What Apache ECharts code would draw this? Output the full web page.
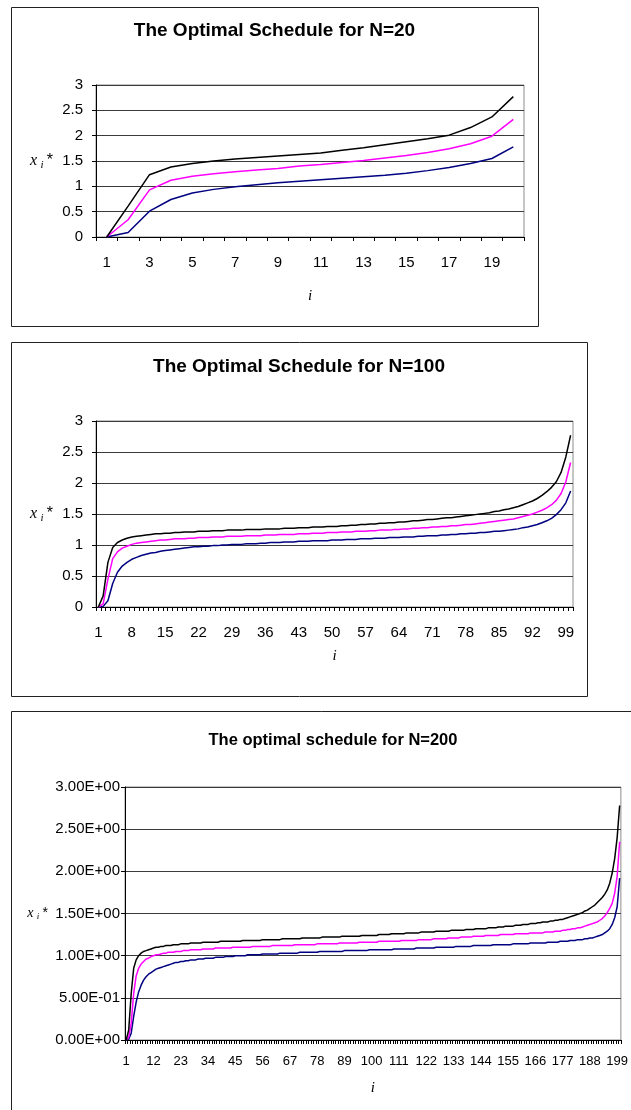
<!DOCTYPE html>
<html>
<head>
<meta charset="utf-8">
<title>The Optimal Schedule</title>
<script src="https://cdn.jsdelivr.net/npm/echarts@6/dist/echarts.min.js"></script>
<style>
html, body { margin: 0; padding: 0; background: #fff; overflow: hidden; }
#main { width: 631px; height: 1110px; }
</style>
</head>
<body>
<div id="main"></div>
<script>
// ---- data ----
var titles = ['The Optimal Schedule for N=20', 'The Optimal Schedule for N=100', 'The optimal schedule for N=200'];
var yTicks = [0, 0.5, 1, 1.5, 2, 2.5, 3];

// N = 20
var black20 = [0, 0.61, 1.23, 1.38, 1.45, 1.50, 1.54, 1.57, 1.60, 1.63, 1.66, 1.71, 1.76, 1.82, 1.88, 1.94, 2.01, 2.16, 2.37, 2.77];
var magenta20 = [0, 0.34, 0.93, 1.12, 1.20, 1.25, 1.29, 1.32, 1.35, 1.40, 1.43, 1.47, 1.51, 1.56, 1.61, 1.67, 1.74, 1.84, 1.99, 2.32];
var navy20 = [0, 0.09, 0.51, 0.74, 0.87, 0.94, 0.99, 1.03, 1.07, 1.10, 1.13, 1.16, 1.19, 1.22, 1.26, 1.31, 1.37, 1.45, 1.55, 1.78];

// N = 100
var black100 = [
  0, 0.18, 0.72, 0.96, 1.04, 1.08, 1.11, 1.13, 1.14, 1.15,
  1.16, 1.17, 1.18, 1.18, 1.19, 1.19, 1.20, 1.20, 1.21, 1.21,
  1.21, 1.22, 1.22, 1.22, 1.23, 1.23, 1.23, 1.24, 1.24, 1.24,
  1.24, 1.25, 1.25, 1.25, 1.25, 1.26, 1.26, 1.26, 1.26, 1.27,
  1.27, 1.27, 1.28, 1.28, 1.28, 1.29, 1.29, 1.29, 1.30, 1.30,
  1.30, 1.31, 1.31, 1.32, 1.32, 1.33, 1.33, 1.34, 1.34, 1.35,
  1.35, 1.36, 1.36, 1.37, 1.37, 1.38, 1.39, 1.39, 1.40, 1.41,
  1.41, 1.42, 1.43, 1.44, 1.44, 1.45, 1.46, 1.47, 1.48, 1.49,
  1.50, 1.51, 1.52, 1.54, 1.55, 1.57, 1.58, 1.60, 1.62, 1.65,
  1.68, 1.71, 1.75, 1.80, 1.86, 1.93, 2.02, 2.17, 2.42, 2.77
];
var magenta100 = [
  0, 0.05, 0.45, 0.78, 0.89, 0.95, 0.98, 1.01, 1.03, 1.04,
  1.05, 1.06, 1.07, 1.08, 1.08, 1.09, 1.10, 1.10, 1.10, 1.11,
  1.11, 1.12, 1.12, 1.12, 1.13, 1.13, 1.13, 1.14, 1.14, 1.14,
  1.14, 1.15, 1.15, 1.15, 1.15, 1.16, 1.16, 1.16, 1.17, 1.17,
  1.17, 1.17, 1.18, 1.18, 1.18, 1.19, 1.19, 1.19, 1.20, 1.20,
  1.20, 1.21, 1.21, 1.21, 1.22, 1.22, 1.22, 1.23, 1.23, 1.24,
  1.24, 1.24, 1.25, 1.25, 1.26, 1.26, 1.27, 1.27, 1.28, 1.28,
  1.29, 1.29, 1.30, 1.30, 1.31, 1.31, 1.32, 1.33, 1.33, 1.34,
  1.35, 1.36, 1.37, 1.38, 1.39, 1.40, 1.41, 1.42, 1.44, 1.46,
  1.48, 1.50, 1.53, 1.56, 1.60, 1.65, 1.72, 1.83, 2.02, 2.33
];
var navy100 = [
  0, 0.01, 0.10, 0.38, 0.56, 0.66, 0.72, 0.77, 0.80, 0.83,
  0.85, 0.87, 0.88, 0.90, 0.91, 0.92, 0.93, 0.94, 0.95, 0.96,
  0.97, 0.97, 0.98, 0.98, 0.99, 0.99, 1.00, 1.00, 1.01, 1.01,
  1.01, 1.02, 1.02, 1.02, 1.03, 1.03, 1.04, 1.04, 1.04, 1.05,
  1.05, 1.05, 1.06, 1.06, 1.06, 1.07, 1.07, 1.07, 1.07, 1.08,
  1.08, 1.08, 1.09, 1.09, 1.09, 1.10, 1.10, 1.10, 1.11, 1.11,
  1.11, 1.12, 1.12, 1.12, 1.13, 1.13, 1.13, 1.14, 1.14, 1.15,
  1.15, 1.15, 1.16, 1.16, 1.17, 1.17, 1.18, 1.18, 1.19, 1.19,
  1.20, 1.20, 1.21, 1.22, 1.22, 1.23, 1.24, 1.25, 1.26, 1.28,
  1.29, 1.31, 1.33, 1.36, 1.39, 1.43, 1.49, 1.57, 1.68, 1.87
];

// N = 200
var black200 = [
  0, 0.12, 0.55, 0.85, 0.95, 1.00, 1.03, 1.05, 1.06, 1.07,
  1.08, 1.09, 1.10, 1.10, 1.11, 1.11, 1.12, 1.12, 1.12, 1.13,
  1.13, 1.13, 1.14, 1.14, 1.14, 1.14, 1.15, 1.15, 1.15, 1.15,
  1.15, 1.16, 1.16, 1.16, 1.16, 1.16, 1.16, 1.16, 1.17, 1.17,
  1.17, 1.17, 1.17, 1.17, 1.17, 1.17, 1.17, 1.18, 1.18, 1.18,
  1.18, 1.18, 1.18, 1.18, 1.18, 1.19, 1.19, 1.19, 1.19, 1.19,
  1.19, 1.19, 1.19, 1.20, 1.20, 1.20, 1.20, 1.20, 1.20, 1.20,
  1.20, 1.21, 1.21, 1.21, 1.21, 1.21, 1.21, 1.21, 1.21, 1.22,
  1.22, 1.22, 1.22, 1.22, 1.22, 1.22, 1.22, 1.23, 1.23, 1.23,
  1.23, 1.23, 1.23, 1.23, 1.23, 1.24, 1.24, 1.24, 1.24, 1.24,
  1.24, 1.24, 1.25, 1.25, 1.25, 1.25, 1.25, 1.26, 1.26, 1.26,
  1.26, 1.26, 1.26, 1.27, 1.27, 1.27, 1.27, 1.27, 1.27, 1.28,
  1.28, 1.28, 1.28, 1.28, 1.28, 1.29, 1.29, 1.29, 1.29, 1.29,
  1.29, 1.30, 1.30, 1.30, 1.30, 1.30, 1.30, 1.31, 1.31, 1.31,
  1.31, 1.32, 1.32, 1.32, 1.32, 1.32, 1.33, 1.33, 1.33, 1.33,
  1.34, 1.34, 1.34, 1.35, 1.35, 1.35, 1.35, 1.36, 1.36, 1.36,
  1.37, 1.37, 1.37, 1.38, 1.38, 1.38, 1.39, 1.39, 1.40, 1.40,
  1.40, 1.41, 1.41, 1.42, 1.42, 1.43, 1.43, 1.44, 1.45, 1.46,
  1.47, 1.48, 1.49, 1.50, 1.51, 1.53, 1.54, 1.56, 1.58, 1.60,
  1.63, 1.66, 1.69, 1.73, 1.78, 1.86, 1.98, 2.15, 2.40, 2.78
];
var magenta200 = [
  0, 0.03, 0.20, 0.55, 0.76, 0.85, 0.90, 0.93, 0.96, 0.97,
  0.99, 1.00, 1.01, 1.01, 1.02, 1.03, 1.03, 1.04, 1.04, 1.04,
  1.05, 1.05, 1.05, 1.06, 1.06, 1.06, 1.07, 1.07, 1.07, 1.07,
  1.07, 1.08, 1.08, 1.08, 1.08, 1.08, 1.09, 1.09, 1.09, 1.09,
  1.09, 1.09, 1.09, 1.10, 1.10, 1.10, 1.10, 1.10, 1.10, 1.10,
  1.10, 1.11, 1.11, 1.11, 1.11, 1.11, 1.11, 1.11, 1.11, 1.12,
  1.12, 1.12, 1.12, 1.12, 1.12, 1.12, 1.12, 1.12, 1.13, 1.13,
  1.13, 1.13, 1.13, 1.13, 1.13, 1.13, 1.13, 1.14, 1.14, 1.14,
  1.14, 1.14, 1.14, 1.14, 1.14, 1.14, 1.15, 1.15, 1.15, 1.15,
  1.15, 1.15, 1.15, 1.15, 1.16, 1.16, 1.16, 1.16, 1.16, 1.16,
  1.16, 1.16, 1.17, 1.17, 1.17, 1.17, 1.17, 1.17, 1.17, 1.17,
  1.17, 1.18, 1.18, 1.18, 1.18, 1.18, 1.18, 1.18, 1.19, 1.19,
  1.19, 1.19, 1.19, 1.19, 1.20, 1.20, 1.20, 1.20, 1.20, 1.20,
  1.21, 1.21, 1.21, 1.21, 1.21, 1.22, 1.22, 1.22, 1.22, 1.22,
  1.23, 1.23, 1.23, 1.23, 1.23, 1.24, 1.24, 1.24, 1.24, 1.24,
  1.24, 1.25, 1.25, 1.25, 1.25, 1.25, 1.25, 1.26, 1.26, 1.26,
  1.26, 1.26, 1.26, 1.27, 1.27, 1.27, 1.27, 1.27, 1.27, 1.28,
  1.28, 1.28, 1.28, 1.29, 1.29, 1.29, 1.30, 1.30, 1.31, 1.31,
  1.32, 1.32, 1.33, 1.33, 1.34, 1.35, 1.36, 1.37, 1.38, 1.39,
  1.40, 1.42, 1.44, 1.47, 1.51, 1.56, 1.62, 1.74, 1.94, 2.35
];
var navy200 = [
  0, 0.01, 0.08, 0.28, 0.45, 0.57, 0.65, 0.71, 0.75, 0.78,
  0.80, 0.82, 0.84, 0.85, 0.86, 0.87, 0.88, 0.89, 0.90, 0.91,
  0.92, 0.92, 0.93, 0.93, 0.94, 0.94, 0.95, 0.95, 0.95, 0.96,
  0.96, 0.96, 0.97, 0.97, 0.97, 0.97, 0.98, 0.98, 0.98, 0.98,
  0.99, 0.99, 0.99, 0.99, 1.00, 1.00, 1.00, 1.00, 1.00, 1.01,
  1.01, 1.01, 1.01, 1.01, 1.01, 1.02, 1.02, 1.02, 1.02, 1.02,
  1.02, 1.02, 1.03, 1.03, 1.03, 1.03, 1.03, 1.03, 1.03, 1.03,
  1.04, 1.04, 1.04, 1.04, 1.04, 1.04, 1.04, 1.04, 1.05, 1.05,
  1.05, 1.05, 1.05, 1.05, 1.05, 1.05, 1.05, 1.05, 1.06, 1.06,
  1.06, 1.06, 1.06, 1.06, 1.06, 1.06, 1.06, 1.06, 1.07, 1.07,
  1.07, 1.07, 1.07, 1.07, 1.07, 1.07, 1.07, 1.07, 1.08, 1.08,
  1.08, 1.08, 1.08, 1.08, 1.08, 1.08, 1.08, 1.09, 1.09, 1.09,
  1.09, 1.09, 1.09, 1.09, 1.09, 1.10, 1.10, 1.10, 1.10, 1.10,
  1.10, 1.10, 1.10, 1.11, 1.11, 1.11, 1.11, 1.11, 1.11, 1.11,
  1.12, 1.12, 1.12, 1.12, 1.12, 1.12, 1.12, 1.12, 1.13, 1.13,
  1.13, 1.13, 1.13, 1.13, 1.13, 1.13, 1.14, 1.14, 1.14, 1.14,
  1.14, 1.14, 1.14, 1.15, 1.15, 1.15, 1.15, 1.15, 1.15, 1.15,
  1.16, 1.16, 1.16, 1.16, 1.16, 1.17, 1.17, 1.17, 1.17, 1.18,
  1.18, 1.18, 1.19, 1.19, 1.19, 1.20, 1.20, 1.21, 1.21, 1.22,
  1.23, 1.24, 1.25, 1.27, 1.29, 1.32, 1.37, 1.45, 1.58, 1.92
];

// ---- layout ----
var boxes = [
  { x: 11, y: 7, w: 527, h: 319 },
  { x: 11, y: 342, w: 576, h: 354 },
  { x: 11, y: 711, w: 640, h: 420 }
];
var grids = [
  { left: 96, top: 85, width: 428, height: 152 },
  { left: 96, top: 421, width: 477, height: 186 },
  { left: 125, top: 787, width: 497, height: 253 }
];

function cats(n) {
  var a = [];
  for (var i = 1; i <= n; i++) a.push(String(i));
  return a;
}

// 0.5 -> 5.00E-01
function sci(v) {
  if (v === 0) return '0.00E+00';
  var e = Math.floor(Math.log10(Math.abs(v)) + 1e-9);
  var m = v / Math.pow(10, e);
  var a = Math.abs(e);
  return m.toFixed(2) + 'E' + (e < 0 ? '-' : '+') + (a < 10 ? '0' : '') + a;
}

var SANS = '"Liberation Sans", Arial, sans-serif';
var SERIF = '"Liberation Serif", "Times New Roman", serif';

function yName(size) {
  return {
    name: '{x|x} {s|i} {t|*}',
    nameLocation: 'middle',
    nameRotate: 0,
    nameTextStyle: {
      rich: {
        x: { fontFamily: SERIF, fontStyle: 'italic', fontSize: size, color: '#000' },
        s: { fontFamily: SERIF, fontStyle: 'italic', fontSize: size - 5, color: '#000', padding: [size * 0.5, 0, 0, 0] },
        t: { fontFamily: SANS, fontSize: size, color: '#000' }
      }
    }
  };
}

var xCats = [cats(20), cats(100), cats(200)];
var labelStep = [1, 6, 10];
var xFont = [15, 15, 13];
var yFont = [15, 15, 15];
var xNameGap = [52, 42, 41];
var yNameGap = [43, 43, 77];
var labelMargin = [18, 18, 15];
var yLabelMargin = [13, 13, 5];

var xAxes = [], yAxes = [], series = [], titleList = [], graphics = [];
var sets = [
  [navy20, magenta20, black20],
  [navy100, magenta100, black100],
  [navy200, magenta200, black200]
];
var colors = ['#000080', '#ff00ff', '#000000'];
var titleX = [274.5, 299, 333];
var titleY = [21, 357, 732];
var titleSize = [19, 19, 16.5];

for (var g = 0; g < 3; g++) {
  var b = boxes[g];
  graphics.push({
    type: 'rect',
    shape: { x: b.x + 0.5, y: b.y + 0.5, width: b.w, height: b.h },
    style: { fill: 'none', stroke: '#222', lineWidth: 1 },
    silent: true
  });
  titleList.push({
    text: titles[g],
    left: titleX[g],
    top: titleY[g],
    textAlign: 'center',
    padding: 0,
    textStyle: { fontFamily: SANS, fontWeight: 'bold', fontSize: titleSize[g], color: '#000' }
  });
  xAxes.push({
    type: 'category',
    gridIndex: g,
    data: xCats[g],
    boundaryGap: true,
    name: 'i',
    nameLocation: 'middle',
    nameGap: xNameGap[g],
    nameTextStyle: { fontFamily: SERIF, fontStyle: 'italic', fontSize: 15, color: '#000' },
    axisLine: { lineStyle: { color: '#000', width: 1 } },
    axisTick: { show: true, interval: 0, length: 4, lineStyle: { color: '#000' } },
    axisLabel: { interval: labelStep[g], margin: labelMargin[g], fontFamily: SANS, fontSize: xFont[g], color: '#000' },
    splitLine: { show: false }
  });
  var ya = yName(g === 2 ? 14 : 16);
  ya.type = 'value';
  ya.gridIndex = g;
  ya.min = 0;
  ya.max = 3;
  ya.interval = 0.5;
  ya.nameGap = yNameGap[g];
  ya.axisLine = { show: true, lineStyle: { color: '#000', width: 1 } };
  ya.axisTick = { show: true, length: 4, lineStyle: { color: '#000' } };
  ya.axisLabel = {
    margin: yLabelMargin[g], fontFamily: SANS, fontSize: yFont[g], color: '#000',
    formatter: g === 2 ? sci : function (v) { return String(v); }
  };
  ya.splitLine = { show: true, lineStyle: { color: '#3a3a3a', width: 1 } };
  yAxes.push(ya);
  for (var s = 0; s < 3; s++) {
    series.push({
      type: 'line',
      xAxisIndex: g,
      yAxisIndex: g,
      data: sets[g][s],
      symbol: 'none',
      smooth: false,
      lineStyle: { color: colors[s], width: 1.5 },
      itemStyle: { color: colors[s] }
    });
  }
}

var chart = echarts.init(document.getElementById('main'), null, { renderer: 'canvas' });
chart.setOption({
  animation: false,
  backgroundColor: '#ffffff',
  title: titleList,
  graphic: graphics,
  grid: grids.map(function (r) {
    return { left: r.left, top: r.top, width: r.width, height: r.height, show: true, borderColor: '#8c8c8c', borderWidth: 1, backgroundColor: 'transparent', containLabel: false };
  }),
  xAxis: xAxes,
  yAxis: yAxes,
  series: series
});
</script>
</body>
</html>
